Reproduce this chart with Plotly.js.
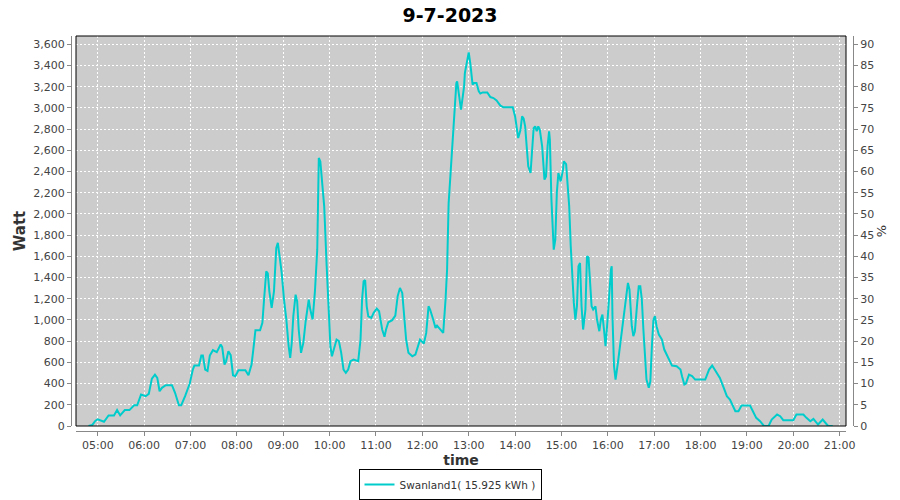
<!DOCTYPE html>
<html>
<head>
<meta charset="utf-8">
<script src="https://cdn.plot.ly/plotly-3.0.1.min.js"></script>
<style>html,body{margin:0;padding:0;background:#fff;}#chart{width:900px;height:500px;}</style>
</head>
<body>
<div id="chart"></div>
<script>
var chartDate = "2023-07-09";
var chartTitle = "9-7-2023";
var seriesName = "Swanland1( 15.925 kWh )";

var times = [
 "04:48","04:53","04:57",
 "05:00","05:08","05:14","05:21","05:25","05:29","05:35","05:41","05:47","05:51","05:56",
 "06:02","06:06","06:10","06:14","06:17","06:20","06:23","06:28","06:36","06:40","06:45","06:48","06:53","06:59",
 "07:03","07:05","07:11","07:14","07:16","07:19","07:22","07:25","07:29","07:34","07:39","07:41","07:44","07:46","07:49","07:52","07:55","07:58",
 "08:02","08:11","08:15","08:19","08:22","08:24","08:30","08:33","08:35","08:38","08:40","08:42","08:45","08:48","08:51","08:53","08:55","08:58",
 "09:01","09:04","09:07","09:09","09:11","09:13","09:16","09:18","09:20","09:23","09:26","09:29","09:33","09:35","09:38","09:41","09:44","09:46","09:48","09:50","09:53","09:56","09:59",
 "10:01","10:03","10:05","10:09","10:12","10:15","10:18","10:21","10:24","10:27","10:31","10:37","10:40","10:42","10:44","10:46","10:48","10:50","10:54","10:57",
 "11:01","11:04","11:08","11:11","11:13","11:16","11:21","11:25","11:28","11:31","11:34","11:36","11:39","11:42","11:47","11:51","11:55","11:57",
 "12:02","12:05","12:08","12:10","12:14","12:17","12:19","12:23","12:27","12:30","12:32","12:34","12:36","12:38","12:40","12:43","12:44","12:45","12:48","12:50","12:52","12:54","12:55","12:58",
 "13:00","13:02","13:04","13:05","13:07","13:10","13:13","13:15","13:18","13:24","13:28","13:32","13:36","13:41","13:45","13:57",
 "14:00","14:02","14:04","14:07","14:09","14:11","14:13","14:15","14:17","14:20","14:22","14:24","14:26","14:28","14:30","14:32","14:35","14:38","14:40","14:42","14:44","14:45","14:47","14:50","14:52","14:54","14:56","14:59",
 "15:02","15:03","15:06","15:08","15:10","15:12","15:14","15:16","15:18","15:20","15:22","15:24","15:26","15:28","15:31","15:33","15:35","15:37","15:39","15:41","15:44","15:46","15:49","15:51","15:53","15:55","15:57",
 "16:00","16:02","16:04","16:05","16:06","16:08","16:10","16:13","16:15","16:18","16:21","16:24","16:26","16:28","16:31","16:33","16:35","16:38","16:40","16:42","16:44","16:46","16:48","16:50","16:53","16:55","16:57","16:59",
 "17:01","17:03","17:06","17:10","17:13","17:16","17:20","17:23","17:29","17:34","17:36","17:39","17:41","17:45","17:49","17:53",
 "18:06","18:08","18:11","18:15","18:17","18:21","18:25","18:30","18:34","18:38","18:45","18:49","18:53",
 "19:04","19:08","19:12","19:17","19:22","19:28","19:32","19:39","19:43","19:47",
 "20:00","20:04","20:13","20:17","20:22","20:26","20:32","20:38","20:41","20:45","20:51"
];

var watts = [
 0,10,50,
 62,40,100,100,150,100,150,150,196,196,297,
 281,303,447,485,454,328,360,385,385,313,196,196,281,400,
 532,570,570,664,664,532,520,664,715,696,768,745,580,610,705,668,479,470,
 526,526,479,580,768,903,903,973,1176,1459,1440,1270,1114,1270,1680,1727,1616,1444,
 1192,1004,752,643,784,1035,1239,1176,910,690,784,988,1192,1098,1004,1270,1663,2528,2495,2323,2072,1538,1035,
 752,658,705,815,800,690,532,501,532,611,627,611,815,1192,1365,1375,1129,1035,1020,1067,
 1107,1082,910,841,910,978,998,1041,1223,1302,1255,1082,815,690,658,674,784,815,
 778,878,1129,1098,1004,925,947,910,878,1192,1475,2100,2330,2543,2800,3077,3235,3250,3093,2983,3093,3203,3329,3470,
 3523,3423,3297,3219,3235,3235,3156,3135,3146,3146,3102,3093,3070,3021,3005,3005,
 2920,2794,2716,2794,2920,2900,2826,2637,2449,2386,2575,2810,2826,2780,2826,2794,2637,2323,2354,2637,2779,2700,2135,1663,1758,2198,2386,2307,
 2417,2496,2470,2260,2072,1695,1350,1161,1004,1129,1506,1538,1129,910,1098,1600,1590,1350,1129,1098,1129,1004,894,1004,1051,910,752,
 1035,1286,1475,1506,1035,564,438,596,721,894,1098,1286,1350,1286,941,847,894,1161,1318,1318,1192,910,690,438,360,420,752,1004,
 1035,941,862,815,721,674,627,570,564,532,470,391,400,485,470,438,
 438,470,532,570,545,501,454,360,281,250,139,139,193,
 193,139,77,45,0,0,61,108,92,55,
 55,108,108,77,45,67,14,61,30,0,0
];

var xRange = ["04:31:50", "21:08:10"];
var wattRange = [0, 3678];
var pctPerWatt = 90 / 3600;

var xs = times.map(function (t) { return chartDate + " " + t; });

var font = "DejaVu Sans, Tahoma, sans-serif";
var tickFont = {family: font, size: 11, color: "#444"};
var axisGray = "#888";

var traces = [
  {
    x: xs, y: watts, type: "scatter", mode: "lines", name: seriesName,
    line: {color: "#00CCCC", width: 2}, xaxis: "x", yaxis: "y"
  },
  {
    x: [xs[0]], y: [null], type: "scatter", mode: "lines", showlegend: false,
    hoverinfo: "skip", xaxis: "x", yaxis: "y2"
  }
];

var layout = {
  width: 900, height: 500,
  margin: {l: 71, r: 47, t: 36, b: 69, pad: 0},
  paper_bgcolor: "#ffffff",
  plot_bgcolor: "#cccccc",
  showlegend: true,
  title: {
    text: chartTitle, x: 0.5, xref: "container", xanchor: "center",
    y: 1 - 15 / 500, yref: "container", yanchor: "middle",
    font: {family: font, size: 19, color: "#000", weight: "bold"}
  },
  xaxis: {
    type: "date", domain: [5 / 782, 775 / 782], anchor: "free", position: 0,
    range: [chartDate + " " + xRange[0], chartDate + " " + xRange[1]],
    tick0: chartDate + " 05:00", dtick: 3600000, tickformat: "%H:%M",
    ticks: "outside", ticklen: 4, tickcolor: axisGray, tickfont: tickFont,
    showline: true, linecolor: axisGray, linewidth: 1,
    showgrid: true, gridcolor: "#ffffff", gridwidth: 1, griddash: "2px,2px",
    zeroline: false,
    title: {text: "time", font: {family: font, size: 14, color: "#333", weight: "bold"}, standoff: 3}
  },
  yaxis: {
    domain: [5 / 395, 1], anchor: "free", position: 0,
    range: wattRange, tick0: 0, dtick: 200, tickformat: ",d",
    ticks: "outside", ticklen: 4, tickcolor: axisGray, tickfont: tickFont,
    showline: true, linecolor: axisGray, linewidth: 1,
    showgrid: true, gridcolor: "#ffffff", gridwidth: 1, griddash: "2px,2px",
    zeroline: false,
    title: {text: "Watt", font: {family: font, size: 15, color: "#333", weight: "bold"}, standoff: 3}
  },
  yaxis2: {
    overlaying: "y", side: "right", anchor: "free", position: 1,
    range: [wattRange[0] * pctPerWatt, wattRange[1] * pctPerWatt], tick0: 0, dtick: 5,
    ticks: "outside", ticklen: 4, tickcolor: axisGray, tickfont: tickFont,
    showline: true, linecolor: axisGray, linewidth: 1,
    showgrid: false, zeroline: false,
    title: {text: "%", font: {family: font, size: 13, color: "#333"}, standoff: 2}
  },
  legend: {
    orientation: "h", x: 0.5, xref: "container", xanchor: "center",
    y: 1 - 469 / 500, yref: "container", yanchor: "top",
    bordercolor: "#000", borderwidth: 1, bgcolor: "#fff",
    font: {family: font, size: 10.5, color: "#333"},
    itemwidth: 30
  },
  shapes: [
    {type: "rect", xref: "x domain", yref: "y domain", x0: 0, x1: 1, y0: 0, y1: 1,
     line: {color: "#000", width: 1}, fillcolor: "rgba(0,0,0,0)", layer: "above"}
  ]
};

Plotly.newPlot("chart", traces, layout, {staticPlot: true, displayModeBar: false});
</script>
</body>
</html>
